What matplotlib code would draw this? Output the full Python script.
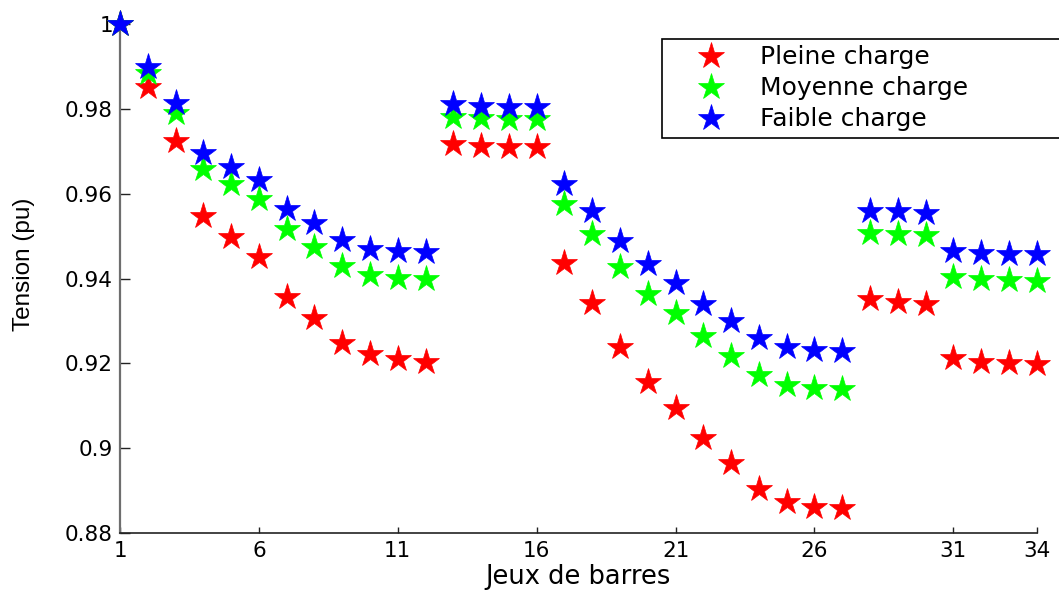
import matplotlib
matplotlib.use("Agg")
import matplotlib.pyplot as plt

# Bus numbers of the 34-bus network
buses = list(range(1, 35))

# Bus voltages (pu) for the three load levels
pleine_charge = [1.0, 0.9852, 0.9724, 0.9547, 0.9499, 0.9450, 0.9356, 0.9308, 0.9247,
                 0.9222, 0.9210, 0.9204, 0.9716, 0.9712, 0.9711, 0.9711, 0.9437,
                 0.9342, 0.9239, 0.9157, 0.9094, 0.9025, 0.8964, 0.8903, 0.8874,
                 0.8862, 0.8858, 0.9351, 0.9345, 0.9340, 0.9212, 0.9204, 0.9200,
                 0.9198]
moyenne_charge = [1.0, 0.9885, 0.9789, 0.9657, 0.9622, 0.9587, 0.9516, 0.9474, 0.9430,
                  0.9408, 0.9402, 0.9399, 0.9781, 0.9778, 0.9775, 0.9775, 0.9575,
                  0.9505, 0.9428, 0.9364, 0.9318, 0.9264, 0.9217, 0.9173, 0.9149,
                  0.9143, 0.9139, 0.9508, 0.9505, 0.9503, 0.9404, 0.9400, 0.9396,
                  0.9395]
faible_charge = [1.0, 0.9899, 0.9813, 0.9695, 0.9662, 0.9632, 0.9564, 0.9532, 0.9491,
                 0.9469, 0.9466, 0.9463, 0.9811, 0.9807, 0.9805, 0.9805, 0.9622,
                 0.9559, 0.9488, 0.9434, 0.9389, 0.9340, 0.9300, 0.9259, 0.9238,
                 0.9231, 0.9229, 0.9560, 0.9558, 0.9555, 0.9466, 0.9461, 0.9458,
                 0.9457]

series_labels = ["Pleine charge", "Moyenne charge", "Faible charge"]
series_colors = ["#ff0000", "#00ff00", "#0000ff"]

x_ticks = [1, 6, 11, 16, 21, 26, 31, 34]
y_ticks = [0.88, 0.90, 0.92, 0.94, 0.96, 0.98, 1.00]
y_tick_labels = ["0.88", "0.9", "0.92", "0.94", "0.96", "0.98", "1"]

W, H = 1059, 594
fig = plt.figure(figsize=(W / 100, H / 100), dpi=100)
ax = fig.add_axes([120 / W, 1 - 533 / H, (1036.7 - 120) / W, (533 - 24) / H])

for vals, lab, col in zip([pleine_charge, moyenne_charge, faible_charge],
                          series_labels, series_colors):
    ax.plot(buses, vals, linestyle="none", marker="*", markersize=19.5,
            color=col, markeredgecolor=col, markeredgewidth=0.5,
            label=lab, clip_on=False, zorder=3)

ax.set_xlim(1, 34)
ax.set_ylim(0.88, 1.0)
ax.set_xticks(x_ticks)
ax.set_xticklabels([str(t) for t in x_ticks])
ax.set_yticks(y_ticks)
ax.set_yticklabels(y_tick_labels)

for side in ("top", "right"):
    ax.spines[side].set_visible(False)
ax.spines["left"].set_color("#6e6e6e")
ax.spines["left"].set_linewidth(1.6)
ax.spines["bottom"].set_color("#222222")
ax.spines["bottom"].set_linewidth(1.2)

ax.tick_params(axis="x", direction="in", length=4, width=1, color="#222222",
               pad=6, labelsize=15.5)
ax.tick_params(axis="y", direction="in", length=7, width=1, color="#222222",
               pad=5, labelsize=15.5)
for lbl in ax.get_xticklabels() + ax.get_yticklabels():
    lbl.set_fontfamily("DejaVu Sans")

ax.set_xlabel("Jeux de barres", family="DejaVu Sans", fontsize=18.5, labelpad=2)
ax.set_ylabel("Tension (pu)", family=["Liberation Sans Narrow", "Liberation Sans"],
              fontsize=17.5)
ax.yaxis.set_label_coords(-0.093, 0.528)

leg = ax.legend(loc="upper left", bbox_to_anchor=(662 / W, 1 - 39 / H, 0.5, 0),
                bbox_transform=fig.transFigure, mode="expand",
                prop=dict(family="DejaVu Sans", size=18),
                handlelength=3.4, handletextpad=0.27, borderpad=0.25,
                labelspacing=0.28, borderaxespad=0, fancybox=False,
                framealpha=1, edgecolor="#000000", markerscale=1.0)
leg.get_frame().set_linewidth(1.2)

fig.savefig("out.png", dpi=100, facecolor="white")
